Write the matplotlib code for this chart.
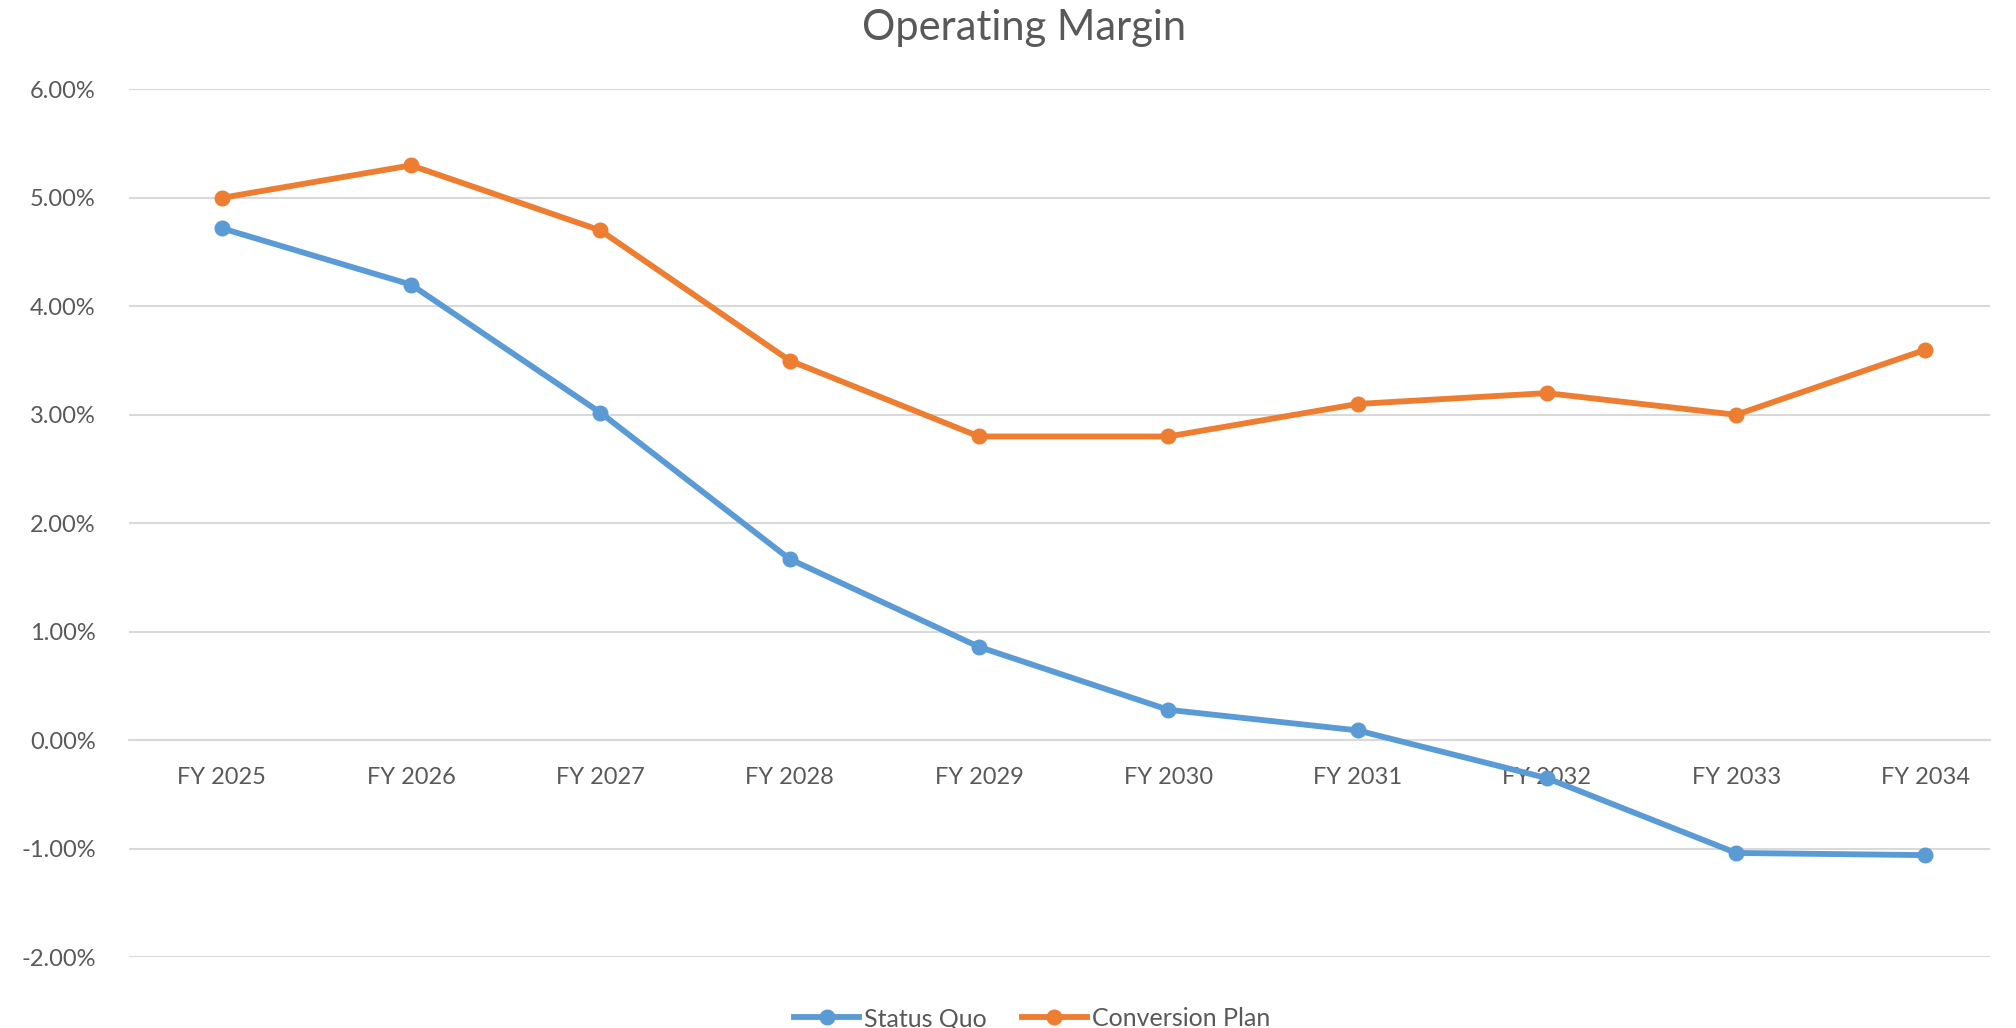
import matplotlib
matplotlib.use("Agg")
import matplotlib.pyplot as plt
from matplotlib.ticker import FuncFormatter

plt.rcParams['font.family'] = ['Lato', 'DejaVu Sans']

years = ["FY 2025", "FY 2026", "FY 2027", "FY 2028", "FY 2029",
         "FY 2030", "FY 2031", "FY 2032", "FY 2033", "FY 2034"]
status_quo = [4.72, 4.20, 3.02, 1.67, 0.86, 0.28, 0.09, -0.35, -1.04, -1.06]
conversion_plan = [5.00, 5.30, 4.70, 3.50, 2.80, 2.80, 3.10, 3.20, 3.00, 3.60]
y_ticks = [-2, -1, 0, 1, 2, 3, 4, 5, 6]

blue = "#5B9BD5"
orange = "#ED7D31"
grey_text = "#595959"
grid_col = "#D9D9D9"

fig = plt.figure(figsize=(20.16, 10.28), dpi=100)
ax = fig.add_axes([0.064, 0.069, 0.923, 0.844])

x = list(range(len(years)))
ax.plot(x, status_quo, color=blue, lw=4.2, marker="o", ms=10.5, label="Status Quo", zorder=3)
ax.plot(x, conversion_plan, color=orange, lw=4.2, marker="o", ms=10.5, label="Conversion Plan", zorder=3)

ax.set_xlim(-0.49, 9.34)
ax.set_ylim(-2, 6)
ax.set_yticks(y_ticks)
ax.yaxis.set_major_formatter(FuncFormatter(lambda v, p: f"{v:.2f}%"))
ax.grid(axis="y", color=grid_col, lw=1.5)
ax.set_axisbelow(True)

for s in ["left", "right", "top"]:
    ax.spines[s].set_visible(False)
# category labels sit under the zero line, like the Excel original
ax.spines["bottom"].set_position(("data", 0))
ax.spines["bottom"].set_color(grid_col)
ax.spines["bottom"].set_linewidth(1.5)

ax.set_xticks(x)
ax.set_xticklabels(years)
ax.tick_params(axis="x", length=0, pad=19, labelsize=17, labelcolor=grey_text)
ax.tick_params(axis="y", length=0, pad=24, labelsize=17, labelcolor=grey_text)

fig.text(0.508, 0.973, "Operating Margin", ha="center", va="center", fontsize=30, color=grey_text)

fig.legend(loc="lower center", bbox_to_anchor=(0.512, -0.024), ncol=2, frameon=False,
           fontsize=18, labelcolor=grey_text, handlelength=2.6, handletextpad=0.2,
           columnspacing=1.4)

fig.savefig("out.png", dpi=100)
